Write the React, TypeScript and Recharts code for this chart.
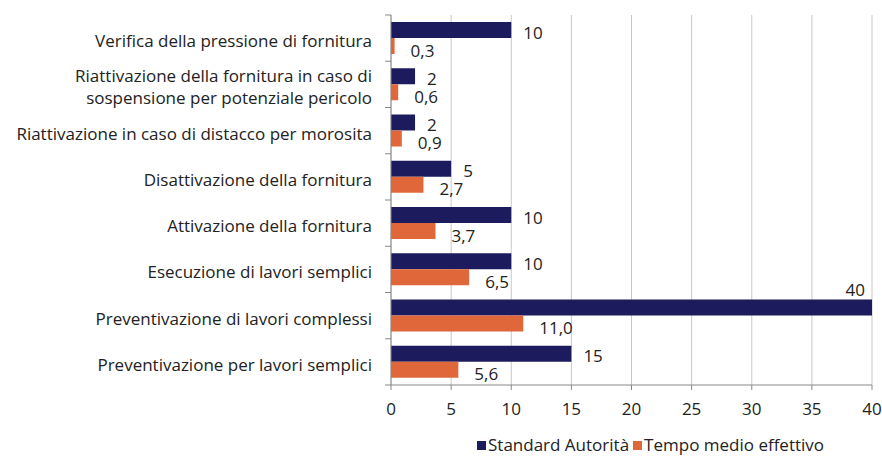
import React from "react";
import { BarChart, Bar, XAxis, YAxis, CartesianGrid, Legend, LabelList } from "recharts";

const categories = [
  "Verifica della pressione di fornitura",
  "Riattivazione della fornitura in caso di|sospensione per potenziale pericolo",
  "Riattivazione in caso di distacco per morosita",
  "Disattivazione della fornitura",
  "Attivazione della fornitura",
  "Esecuzione di lavori semplici",
  "Preventivazione di lavori complessi",
  "Preventivazione per lavori semplici",
];
const standardAutorita = [10, 2, 2, 5, 10, 10, 40, 15];
const tempoMedio = [0.3, 0.6, 0.9, 2.7, 3.7, 6.5, 11.0, 5.6];
const xTicks = [0, 5, 10, 15, 20, 25, 30, 35, 40];

const data = categories.map((name, i) => ({
  name,
  standard: standardAutorita[i],
  tempo: tempoMedio[i],
}));

const NAVY = "#1b1b5e";
const ORANGE = "#e0673a";
const FONT = "'Open Sans', sans-serif";
const TEXT = "#222";
const FS = 17;

const YTick = (props: any) => {
  const { x, y, payload, index } = props;
  const lines = String(payload.value).split("|");
  const half = payload.offset || 23;
  const lh = 22;
  const start = y + 2 - ((lines.length - 1) * lh) / 2;
  const tx = x - 11;
  return (
    <g>
      <line x1={x + 2} x2={x + 8} y1={y - half} y2={y - half} stroke="#888" />
      {index === categories.length - 1 && (
        <line x1={x + 2} x2={x + 8} y1={y + half} y2={y + half} stroke="#888" />
      )}
      <text x={tx} y={start} textAnchor="end" dominantBaseline="central" fontSize={FS} fill={TEXT} fontFamily={FONT}>
        {lines.map((l, i) => (
          <tspan key={i} x={tx} y={start + i * lh}>{l}</tspan>
        ))}
      </text>
    </g>
  );
};

const makeLabel = (decimals: boolean) => (props: any) => {
  const { x, y, width, height, value } = props;
  const txt = decimals ? Number(value).toFixed(1).replace(".", ",") : String(value);
  const end = x + width;
  if (end > 840) {
    return (
      <text x={end - 7} y={y - 10} textAnchor="end" dominantBaseline="central" fontSize={FS} fill={TEXT} fontFamily={FONT}>
        {txt}
      </text>
    );
  }
  return (
    <text x={end + (decimals ? 16 : 12)} y={y + height / 2 + (decimals ? 4 : 2)} textAnchor="start" dominantBaseline="central" fontSize={FS} fill={TEXT} fontFamily={FONT}>
      {txt}
    </text>
  );
};

const LegendContent = () => (
  <div style={{ display: "flex", justifyContent: "flex-start", fontFamily: FONT, fontSize: FS, lineHeight: "22px", color: TEXT, paddingLeft: 477, paddingTop: 4 }}>
    <span style={{ display: "flex", alignItems: "center", marginRight: 4 }}>
      <span style={{ width: 9, height: 9, background: NAVY, display: "inline-block", marginRight: 2 }} />
      Standard Autorità
    </span>
    <span style={{ display: "flex", alignItems: "center" }}>
      <span style={{ width: 9, height: 9, background: ORANGE, display: "inline-block", marginRight: 2 }} />
      Tempo medio effettivo
    </span>
  </div>
);

export default function App() {
  return (
    <div style={{ position: "absolute", left: 0, top: 0, background: "#fff" }}>
      <BarChart
        width={882}
        height={460}
        data={data}
        layout="vertical"
        margin={{ top: 15, right: 10, bottom: 0, left: 0 }}
        barGap={0}
        barSize={16}
      >
        <CartesianGrid horizontal={false} stroke="#c8c8c8" />
        <XAxis
          type="number"
          domain={[0, 40]}
          ticks={xTicks}
          interval={0}
          stroke="#888"
          tickSize={5}
          tick={{ fontSize: FS, fill: TEXT, fontFamily: FONT, dy: 11 }}
          height={45}
        />
        <YAxis
          type="category"
          dataKey="name"
          width={391}
          stroke="#888"
          tickLine={false}
          tick={<YTick />}
          interval={0}
        />
        <Legend verticalAlign="bottom" height={30} content={<LegendContent />} />
        <Bar dataKey="standard" fill={NAVY} isAnimationActive={false} name="Standard Autorità">
          <LabelList dataKey="standard" content={makeLabel(false)} />
        </Bar>
        <Bar dataKey="tempo" fill={ORANGE} isAnimationActive={false} name="Tempo medio effettivo">
          <LabelList dataKey="tempo" content={makeLabel(true)} />
        </Bar>
      </BarChart>
    </div>
  );
}
